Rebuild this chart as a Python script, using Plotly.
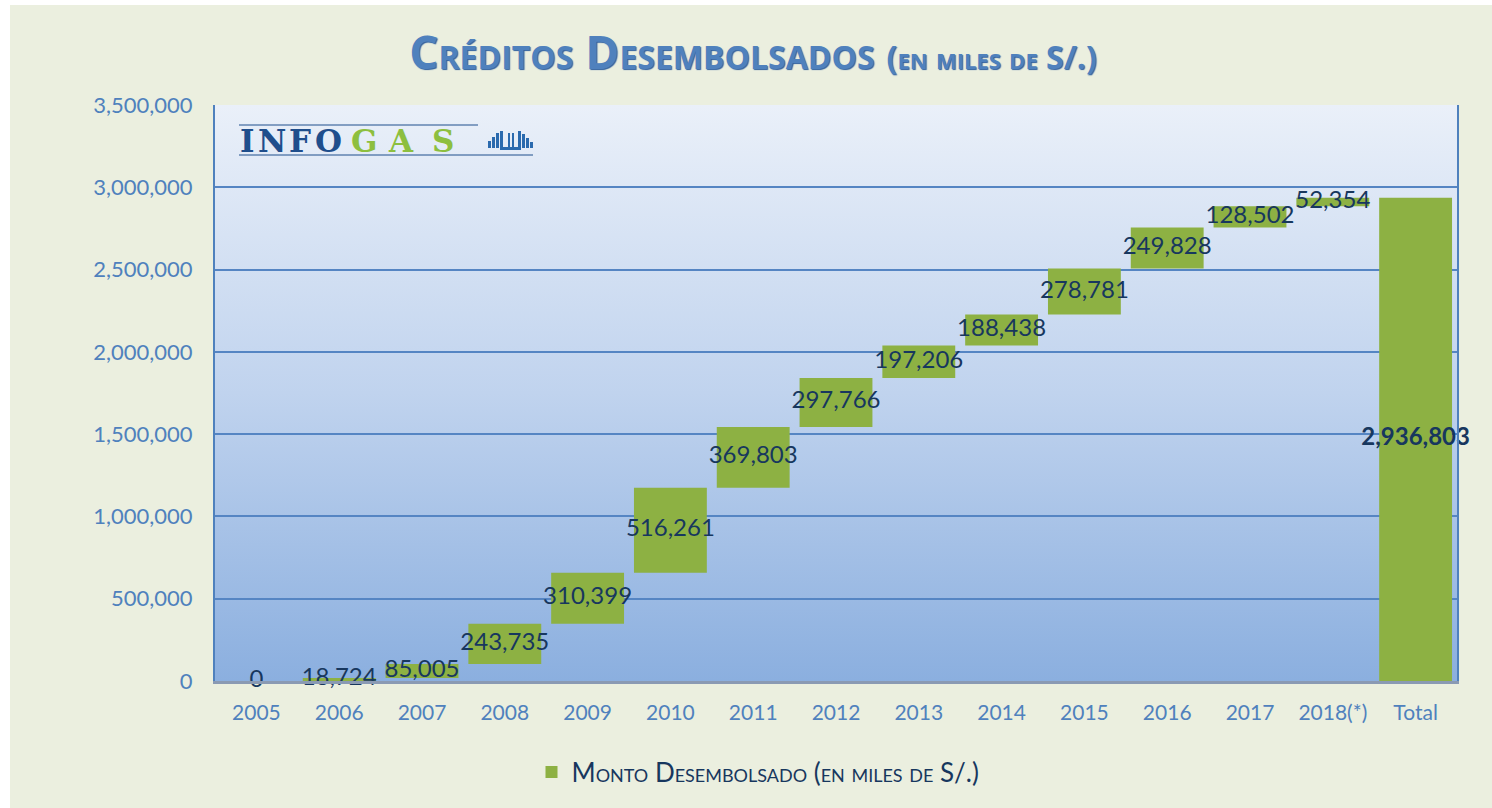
import base64
import numpy as np
import plotly.graph_objects as go

# ---------------- data ----------------
years = ["2005", "2006", "2007", "2008", "2009", "2010", "2011", "2012",
         "2013", "2014", "2015", "2016", "2017", "2018(*)"]
montos = [0, 18724, 85005, 243735, 310399, 516261, 369803, 297766,
          197206, 188438, 278781, 249828, 128502, 52354]
total_label = "Total"
total_value = 2936803
y_ticks = [0, 500000, 1000000, 1500000, 2000000, 2500000, 3000000, 3500000]
series_name = "Monto Desembolsado (en miles de S/.)"
title_main = "Créditos Desembolsados"
title_sub = "(en miles de S/.)"

# ---------------- derived ----------------
bases = list(np.concatenate([[0], np.cumsum(montos)[:-1]]).astype(int))
cats = years + [total_label]
vals = montos + [total_value]
bar_bases = bases + [0]
mids = [b + v / 2 for b, v in zip(bar_bases, vals)]
labels = [f"{v:,}" for v in montos] + [f"<b>{total_value:,}</b>"]

# ---------------- layout geometry ----------------
FW, FH = 1492, 808
L, R, T, B = 215, 35, 105, 127
W, H = FW - L - R, FH - T - B


def px(x):
    return (x - L) / W


def py(y):
    return (T + H - y) / H


BLUE = "#4F81BD"
NAVY = "#17375E"
FONT = "Lato"

fig = go.Figure()

fig.add_trace(go.Bar(
    x=cats, y=vals, base=bar_bases,
    name=series_name,
    marker=dict(color="#8DB143", line=dict(width=0)),
    hoverinfo="skip",
    showlegend=True,
))

fig.add_trace(go.Scatter(
    x=cats, y=mids, text=labels, mode="text",
    textposition="middle center",
    textfont=dict(family=FONT, size=24, color=NAVY),
    cliponaxis=False, showlegend=False, hoverinfo="skip",
))

# gradient plot background as an svg image
svg = ('<svg xmlns="http://www.w3.org/2000/svg" width="10" height="100" '
       'preserveAspectRatio="none"><defs><linearGradient id="g" x1="0" y1="0" '
       'x2="0" y2="1"><stop offset="0" stop-color="#EAF0F9"/>'
       '<stop offset="0.5" stop-color="#C0D3EE"/>'
       '<stop offset="1" stop-color="#8BAFDF"/></linearGradient></defs>'
       '<rect width="10" height="100" fill="url(#g)"/></svg>')
src = "data:image/svg+xml;base64," + base64.b64encode(svg.encode()).decode()

images = [dict(source=src, xref="x domain", yref="y domain", x=0, y=1,
               sizex=1, sizey=1, xanchor="left", yanchor="top",
               sizing="stretch", layer="below")]

shapes = [
    # white strips at left / top of the picture
    dict(type="rect", xref="paper", yref="paper", x0=px(0), x1=px(10),
         y0=py(FH), y1=py(0), fillcolor="white", line=dict(width=0), layer="below"),
    dict(type="rect", xref="paper", yref="paper", x0=px(0), x1=px(FW),
         y0=py(5), y1=py(0), fillcolor="white", line=dict(width=0), layer="below"),
    # logo rules
    dict(type="line", xref="paper", yref="paper", x0=px(239), x1=px(478),
         y0=py(125), y1=py(125), line=dict(color="#1F4E8C", width=1)),
    dict(type="line", xref="paper", yref="paper", x0=px(239), x1=px(533),
         y0=py(155), y1=py(155), line=dict(color="#1F4E8C", width=1)),
]

# logo icon: small bars
icon_bars = [(488, 491, 141), (492, 495, 137), (496, 499, 133), (500, 503, 131),
             (508, 510, 133), (512, 514, 133),
             (518, 521, 131), (522, 525, 134), (526, 529, 138), (530, 533, 142)]
for x0, x1, ytop in icon_bars:
    shapes.append(dict(type="rect", xref="paper", yref="paper",
                       x0=px(x0), x1=px(x1), y0=py(148), y1=py(ytop),
                       fillcolor="#2A6AAE", line=dict(width=0)))
shapes.append(dict(type="rect", xref="paper", yref="paper",
                   x0=px(500), x1=px(521), y0=py(150), y1=py(147),
                   fillcolor="#2A6AAE", line=dict(width=0)))

annotations = []
logo_letters = [("I", 247, "#1F4E8C"), ("N", 272, "#1F4E8C"), ("F", 300, "#1F4E8C"),
                ("O", 328, "#1F4E8C"), ("G", 364, "#8DBF3F"), ("A", 401, "#8DBF3F"),
                ("S", 443, "#8DBF3F")]
for ch, cx, col in logo_letters:
    annotations.append(dict(text=ch, xref="paper", yref="paper", x=px(cx), y=py(141),
                            xanchor="center", yanchor="middle", showarrow=False,
                            font=dict(family="DejaVu Serif", size=31, color=col,
                                      weight="bold")))

fig.update_layout(
    width=FW, height=FH,
    margin=dict(l=L, r=R, t=T, b=B, pad=0),
    paper_bgcolor="#EBEFDF",
    plot_bgcolor="#BCD0EC",
    bargap=0.12,
    title=dict(
        text=f"{title_main} <span style='font-size:32px'>{title_sub}</span>",
        x=753 / FW, xref="container", xanchor="center",
        y=1 - 53 / FH, yref="container", yanchor="middle",
        font=dict(family="Open Sans", size=46, color=BLUE, weight="bold",
                  variant="small-caps", shadow="1px 1px 1px #2F5F9E"),
    ),
    xaxis=dict(
        type="category", categoryorder="array", categoryarray=cats,
        range=[-0.5, len(cats) - 0.5],
        showline=True, linecolor="#8A9AB3", linewidth=3,
        showgrid=False, ticks="", ticklabelstandoff=11,
        tickfont=dict(family=FONT, size=21, color=BLUE),
    ),
    yaxis=dict(
        range=[0, 3500000], tickvals=y_ticks, tickformat=",",
        showgrid=True, gridcolor="#5585C3", gridwidth=2,
        showline=True, linecolor=BLUE, linewidth=2, mirror=True,
        zeroline=False, ticks="", ticklabelstandoff=16,
        tickfont=dict(family=FONT, size=22, color=BLUE),
    ),
    legend=dict(
        orientation="h", x=px(758), xanchor="center", y=py(772), yanchor="middle",
        font=dict(family=FONT, size=26, color=NAVY, variant="small-caps"),
        bgcolor="rgba(0,0,0,0)",
    ),
    images=images,
    shapes=shapes,
    annotations=annotations,
)

fig.write_html(
    "out.html",
    config={"displayModeBar": False},
    post_script="document.body.style.margin='0';document.body.style.overflow='hidden';",
)
